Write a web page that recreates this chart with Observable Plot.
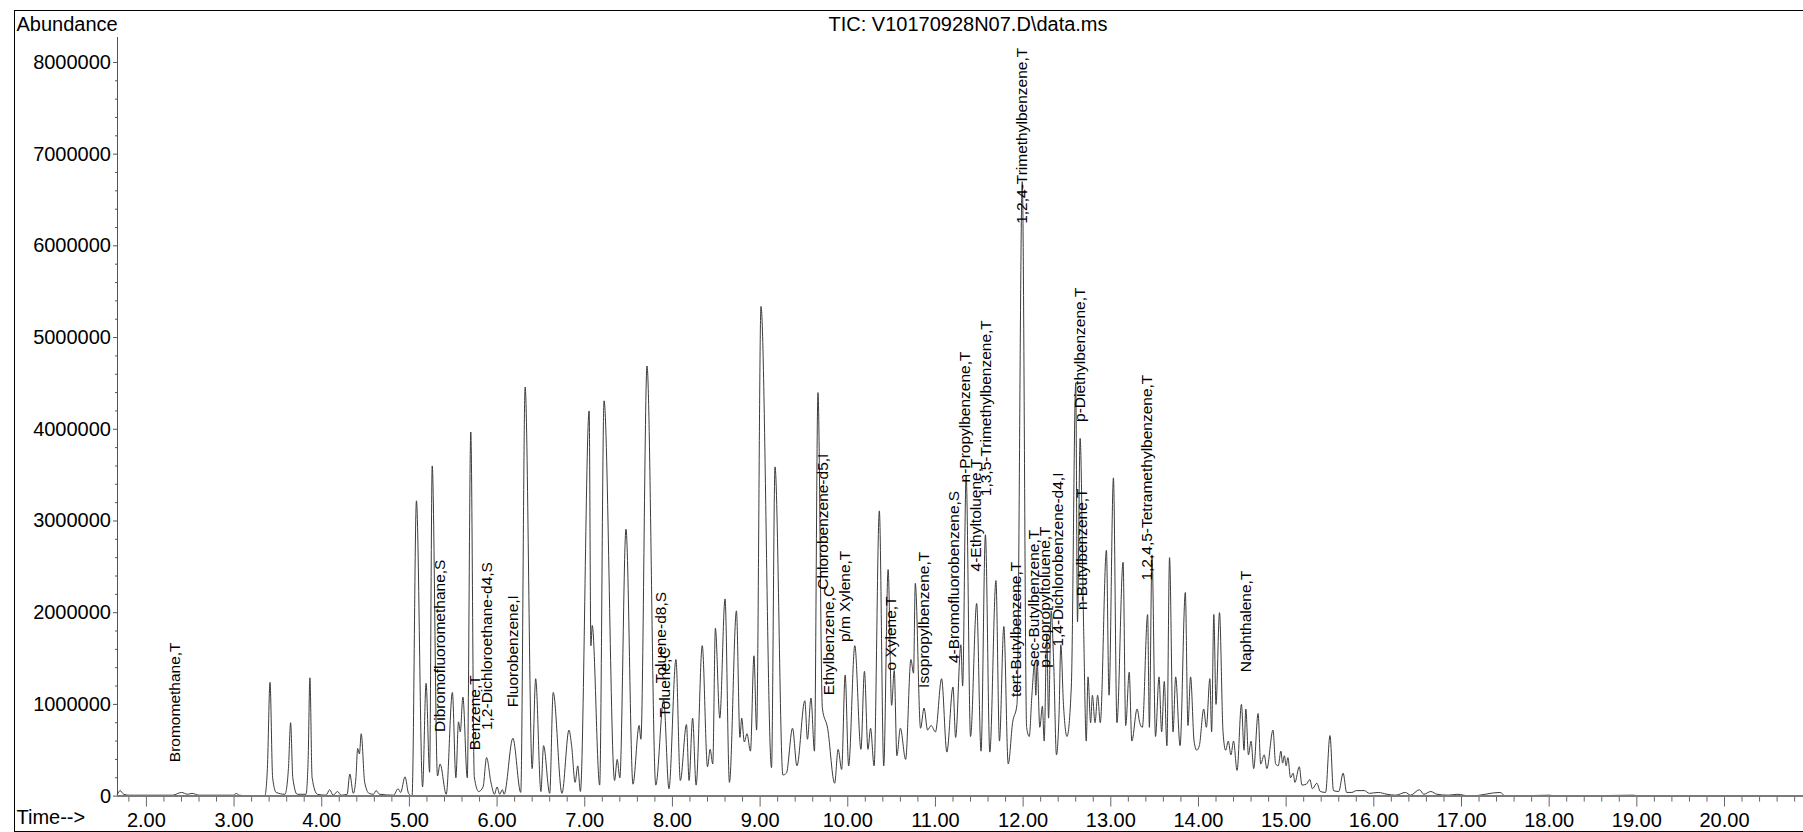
<!DOCTYPE html>
<html><head><meta charset="utf-8">
<script src="https://cdn.jsdelivr.net/npm/d3@7"></script>
<script src="https://cdn.jsdelivr.net/npm/@observablehq/plot@0.6"></script>
<style>
body{margin:0;background:#fff;}
#wrap{position:relative;width:1803px;height:832px;overflow:hidden;}
#border{position:absolute;left:14px;top:10px;width:1820px;height:822px;border:1.5px solid #000;box-sizing:border-box;pointer-events:none;}
</style></head><body><div id="wrap"><div id="chart"></div><div id="border"></div></div>
<script>
// Retention time (min) of trace points: apexes and valleys
const times = [1.67,1.70,1.74,1.80,2.00,2.30,2.40,2.47,2.52,2.60,3.00,3.02,3.06,3.20,3.35,3.38,3.41,3.44,3.48,3.58,3.62,3.645,3.67,3.72,3.82,3.845,3.865,3.89,3.95,4.05,4.09,4.13,4.18,4.22,4.29,4.32,4.36,4.39,4.41,4.43,4.45,4.49,4.54,4.59,4.62,4.66,4.82,4.87,4.90,4.95,4.99,5.03,5.08,5.15,5.19,5.23,5.26,5.32,5.35,5.42,5.49,5.53,5.56,5.58,5.61,5.66,5.70,5.74,5.79,5.84,5.88,5.93,5.97,6.00,6.03,6.06,6.08,6.18,6.27,6.32,6.40,6.44,6.50,6.53,6.60,6.64,6.74,6.82,6.85,6.89,6.92,6.95,7.05,7.07,7.085,7.17,7.22,7.34,7.37,7.40,7.47,7.55,7.62,7.64,7.71,7.81,7.90,7.96,8.04,8.09,8.16,8.19,8.23,8.27,8.34,8.40,8.43,8.46,8.49,8.54,8.60,8.65,8.73,8.77,8.79,8.82,8.85,8.89,8.93,8.96,9.01,9.13,9.17,9.26,9.30,9.37,9.42,9.51,9.54,9.58,9.62,9.66,9.71,9.77,9.85,9.89,9.93,9.97,10.01,10.08,10.15,10.19,10.23,10.26,10.30,10.36,10.41,10.46,10.50,10.53,10.56,10.60,10.66,10.72,10.75,10.77,10.83,10.87,10.91,10.95,11.00,11.07,11.13,11.20,11.23,11.29,11.31,11.35,11.40,11.47,11.52,11.57,11.62,11.69,11.73,11.78,11.83,11.88,11.93,11.99,12.04,12.07,12.10,12.13,12.145,12.16,12.19,12.22,12.24,12.27,12.29,12.32,12.35,12.38,12.41,12.43,12.46,12.50,12.55,12.60,12.62,12.65,12.69,12.72,12.74,12.77,12.79,12.82,12.85,12.88,12.95,12.98,13.03,13.07,13.14,13.17,13.21,13.24,13.30,13.33,13.36,13.42,13.44,13.47,13.51,13.55,13.58,13.61,13.64,13.67,13.71,13.74,13.79,13.85,13.88,13.91,13.95,13.98,14.01,14.06,14.09,14.13,14.15,14.175,14.20,14.24,14.28,14.31,14.34,14.37,14.40,14.44,14.49,14.52,14.54,14.57,14.60,14.63,14.68,14.71,14.75,14.78,14.85,14.88,14.91,14.94,14.96,14.98,15.00,15.02,15.05,15.08,15.10,15.15,15.18,15.23,15.27,15.30,15.35,15.39,15.45,15.50,15.54,15.60,15.65,15.69,15.75,15.80,15.89,15.95,16.05,16.15,16.25,16.36,16.42,16.52,16.57,16.65,16.72,16.85,16.95,17.10,17.44,17.50,18.00,18.10,18.96,19.05,20.90];
// Abundance (counts) at each of those times
const abundance = [0.02e6,0.06e6,0.02e6,0.01e6,0.01e6,0.01e6,0.04e6,0.02e6,0.03e6,0.01e6,0.01e6,0.03e6,0.01e6,0,0,0.3e6,1.24e6,0.2e6,0.04e6,0.02e6,0.3e6,0.80e6,0.2e6,0.02e6,0.02e6,0.4e6,1.29e6,0.2e6,0.02e6,0.01e6,0.07e6,0.01e6,0.05e6,0.01e6,0.02e6,0.24e6,0.03e6,0.2e6,0.52e6,0.46e6,0.68e6,0.15e6,0.03e6,0.02e6,0.06e6,0.02e6,0.01e6,0.08e6,0.04e6,0.21e6,0.03e6,0,3.22e6,0.10e6,1.23e6,0.26e6,3.60e6,0.22e6,0.35e6,0.02e6,1.13e6,0.20e6,0.81e6,0.70e6,1.08e6,0.20e6,3.97e6,0.21e6,0.05e6,0.10e6,0.42e6,0.15e6,0.02e6,0.10e6,0.02e6,0.07e6,0.02e6,0.63e6,0.04e6,4.46e6,0.30e6,1.28e6,0.05e6,0.55e6,0.03e6,1.13e6,0.03e6,0.72e6,0.55e6,0.15e6,0.33e6,0.05e6,4.20e6,1.64e6,1.86e6,0.12e6,4.31e6,0.17e6,0.40e6,0.20e6,2.91e6,0.13e6,0.77e6,0.62e6,4.69e6,0.12e6,1.05e6,0.08e6,1.49e6,0.17e6,0.78e6,0.17e6,0.85e6,0.12e6,1.64e6,0.32e6,0.51e6,0.35e6,1.83e6,0.85e6,2.15e6,0.15e6,2.02e6,0.64e6,0.85e6,0.59e6,0.68e6,0.49e6,1.53e6,0.72e6,5.34e6,0.31e6,3.59e6,0.23e6,0.25e6,0.74e6,0.33e6,1.04e6,0.62e6,1.07e6,0.49e6,4.40e6,0.96e6,0.74e6,0.14e6,0.51e6,0.29e6,1.32e6,0.33e6,1.64e6,0.51e6,1.36e6,0.51e6,0.74e6,0.33e6,3.11e6,0.33e6,2.47e6,0.99e6,1.37e6,0.44e6,0.74e6,0.40e6,1.49e6,1.34e6,2.32e6,0.74e6,0.96e6,0.72e6,0.77e6,0.70e6,1.28e6,0.48e6,1.19e6,0.64e6,1.65e6,1.20e6,3.50e6,0.65e6,2.10e6,0.49e6,2.85e6,0.48e6,2.35e6,0.60e6,1.85e6,0.35e6,0.80e6,1.00e6,6.70e6,0.75e6,0.65e6,1.10e6,1.44e6,1.10e6,1.47e6,0.75e6,0.98e6,0.60e6,1.76e6,0.85e6,2.02e6,1.41e6,0.45e6,0.90e6,1.65e6,1.00e6,0.65e6,1.20e6,4.50e6,1.90e6,3.90e6,1.84e6,0.60e6,1.30e6,0.80e6,1.10e6,0.80e6,1.10e6,0.80e6,2.68e6,1.10e6,3.47e6,0.80e6,2.55e6,0.77e6,1.35e6,0.60e6,0.95e6,0.80e6,0.75e6,1.98e6,0.75e6,2.63e6,0.65e6,1.30e6,0.70e6,1.25e6,0.55e6,2.60e6,0.70e6,1.30e6,0.55e6,2.22e6,0.77e6,1.30e6,0.60e6,0.50e6,0.55e6,0.95e6,0.75e6,1.28e6,0.70e6,1.98e6,1.00e6,2.00e6,0.70e6,0.50e6,0.60e6,0.45e6,0.60e6,0.28e6,1.00e6,0.50e6,0.95e6,0.45e6,0.60e6,0.30e6,0.90e6,0.35e6,0.45e6,0.30e6,0.72e6,0.35e6,0.33e6,0.49e6,0.36e6,0.44e6,0.33e6,0.42e6,0.20e6,0.25e6,0.15e6,0.32e6,0.12e6,0.13e6,0.18e6,0.08e6,0.14e6,0.05e6,0.04e6,0.66e6,0.06e6,0.05e6,0.25e6,0.04e6,0.04e6,0.06e6,0.06e6,0.03e6,0.04e6,0.02e6,0.01e6,0.04e6,0.01e6,0.07e6,0.02e6,0.05e6,0.02e6,0.01e6,0.02e6,0,0.04e6,0,0.01e6,0,0.01e6,0,0];

// Compound annotations: name, retention time, abundance level where the label starts
const labelNames = ["Bromomethane,T","Dibromofluoromethane,S","Benzene,T","1,2-Dichloroethane-d4,S","Fluorobenzene,I","Toluene-d8,S","Toluene,C","Chlorobenzene-d5,I","Ethylbenzene,C","p/m Xylene,T","o Xylene,T","Isopropylbenzene,T","4-Bromofluorobenzene,S","n-Propylbenzene,T","4-Ethyltoluene,T","1,3,5-Trimethylbenzene,T","tert-Butylbenzene,T","1,2,4-Trimethylbenzene,T","sec-Butylbenzene,T","p-Isopropyltoluene,T","1,4-Dichlorobenzene-d4,I","p-Diethylbenzene,T","n-Butylbenzene,T","1,2,4,5-Tetramethylbenzene,T","Naphthalene,T"];
const labelTimes = [2.33,5.35,5.75,5.89,6.18,7.87,7.92,9.72,9.79,9.97,10.49,10.87,11.21,11.34,11.46,11.58,11.92,11.99,12.12,12.25,12.40,12.65,12.67,13.41,14.54];
const labelLevels = [0.37e6,0.70e6,0.50e6,0.72e6,0.97e6,1.23e6,0.86e6,2.25e6,1.10e6,1.68e6,1.37e6,1.18e6,1.45e6,3.42e6,2.45e6,3.27e6,1.08e6,6.24e6,1.41e6,1.40e6,1.63e6,4.08e6,2.03e6,2.35e6,1.35e6];

const xMajor = d3.range(2, 21, 1);
const xMinor = d3.range(1.8, 20.95, 0.2).filter(v => Math.abs(v - Math.round(v)) > 0.01);
const yMajor = d3.range(0, 8000001, 1000000);
const yMinor = d3.range(0, 8000001, 200000).filter(v => v % 1000000 !== 0);

const titleText = "TIC: V10170928N07.D\\data.ms";

const trace = times.map((t, i) => ({t, a: abundance[i]}));
const labels = labelNames.map((name, i) => ({name, t: labelTimes[i], a: labelLevels[i]}));

const font = "'Liberation Sans', Arial, sans-serif";
const chart = Plot.plot({
  width: 1803, height: 832,
  marginLeft: 117, marginRight: 0, marginTop: 37, marginBottom: 36.4,
  x: {domain: [1.6704, 20.901]},
  y: {domain: [0, 8.272e6]},
  style: {fontFamily: font, color: "#000", background: "transparent", overflow: "visible"},
  marks: [
    Plot.frame({anchor: "left", stroke: "#555", strokeWidth: 1}),
    Plot.axisY(yMajor, {tickSize: 4, tickPadding: 2.5, tickFormat: d3.format("d"), fontSize: 20, stroke: "#555", label: null}),
    Plot.axisY(yMinor, {tickSize: 2, tickFormat: () => "", stroke: "#555", label: null}),
    Plot.axisX(xMajor, {tickSize: 11, tickPadding: 6, tickFormat: d => d.toFixed(2), fontSize: 20, stroke: "#666", label: null}),
    Plot.axisX(xMinor, {tickSize: 6, tickFormat: () => "", stroke: "#666", label: null}),
    Plot.line(trace, {x: "t", y: "a", stroke: "#3c3c3c", strokeWidth: 1, curve: "monotone-x"}),
    Plot.ruleY([0], {stroke: "#7a7a7a", strokeWidth: 2}),
    Plot.text(labels, {x: "t", y: "a", text: "name", rotate: -90, textAnchor: "start", fontSize: 15.5, fill: "#000"}),
    Plot.text([titleText], {frameAnchor: "top", dx: 7.5, dy: -21, fontSize: 20, fill: "#000"}),
    Plot.text(["Abundance"], {frameAnchor: "top-left", dx: -101, dy: -21, textAnchor: "start", fontSize: 20, fill: "#000"}),
    Plot.text(["Time-->"], {frameAnchor: "bottom-left", dx: -101, dy: 28, textAnchor: "start", fontSize: 20, fill: "#000"})
  ]
});
document.getElementById("chart").appendChild(chart);
</script></body></html>
